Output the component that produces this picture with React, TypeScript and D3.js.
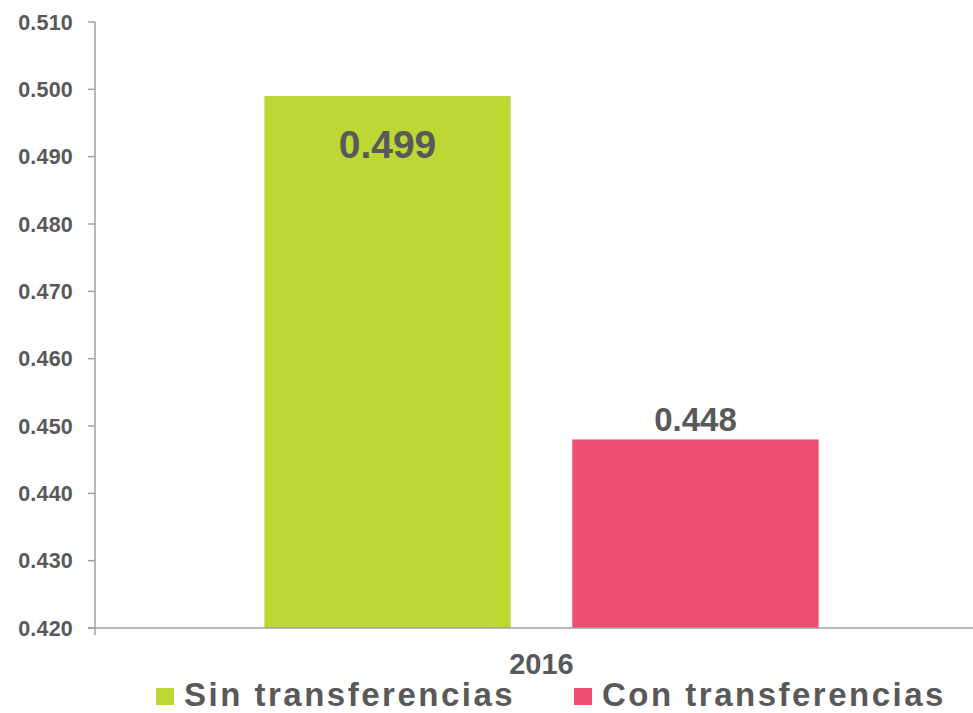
import React from "react";
import * as d3 from "d3";

const categories = ["2016"];
const seriesNames = ["Sin transferencias", "Con transferencias"];
const seriesValues = [0.499, 0.448];
const seriesColors = ["#BDD834", "#EE4F72"];
const yTicks = [0.42, 0.43, 0.44, 0.45, 0.46, 0.47, 0.48, 0.49, 0.5, 0.51];

const W = 973;
const H = 713;

export default function App() {
  const left = 95;
  const y = d3.scaleLinear().domain([0.42, 0.51]).range([628, 22]);
  const x0 = d3.scaleBand().domain(categories).range([left, 988]);
  const x1 = d3
    .scaleBand()
    .domain(seriesNames)
    .range([0, x0.bandwidth()])
    .paddingInner(0.2)
    .paddingOuter(0.55);
  const font = "'Liberation Sans', Arial, sans-serif";
  const txt = "#595959";
  const fmt = d3.format(".3f");
  return (
    <svg
      width={W}
      height={H}
      style={{ position: "absolute", left: 0, top: 0, background: "#fff" }}
      fontFamily={font}
    >
      {/* y axis */}
      <line x1={left} x2={left} y1={y(0.51)} y2={y(0.42) + 7} stroke="#a0a0a0" strokeWidth={1.5} />
      {yTicks.map((t) => (
        <g key={t}>
          <line x1={left - 7} x2={left} y1={y(t)} y2={y(t)} stroke="#a0a0a0" strokeWidth={1.5} />
          <text
            x={73}
            y={y(t)}
            dy="0.36em"
            textAnchor="end"
            fontSize={21.5}
            fontWeight="bold"
            fill={txt}
            letterSpacing={0.2}
          >
            {fmt(t)}
          </text>
        </g>
      ))}
      {/* bars */}
      {categories.map((c) =>
        seriesNames.map((s, i) => {
          const bx = (x0(c) as number) + (x1(s) as number);
          const v = seriesValues[i];
          return (
            <rect
              key={s}
              x={bx}
              y={y(v)}
              width={x1.bandwidth()}
              height={y(0.42) - y(v)}
              fill={seriesColors[i]}
            />
          );
        })
      )}
      {/* x axis */}
      <line x1={left - 7} x2={W} y1={y(0.42)} y2={y(0.42)} stroke="#a0a0a0" strokeWidth={1.5} />
      {/* value labels */}
      {categories.map((c) =>
        seriesNames.map((s, i) => {
          const cx = (x0(c) as number) + (x1(s) as number) + x1.bandwidth() / 2;
          const v = seriesValues[i];
          const inside = i === 0;
          return (
            <text
              key={s}
              x={cx}
              y={inside ? y(v) + 62 : y(v) - 8}
              textAnchor="middle"
              fontSize={inside ? 39 : 33}
              fontWeight="bold"
              fill={txt}
            >
              {fmt(v)}
            </text>
          );
        })
      )}
      {/* category label */}
      {categories.map((c) => (
        <text
          key={c}
          x={(x0(c) as number) + x0.bandwidth() / 2}
          y={674}
          textAnchor="middle"
          fontSize={29}
          fontWeight="bold"
          fill={txt}
        >
          {c}
        </text>
      ))}
      {/* legend */}
      {seriesNames.map((s, i) => {
        const lx = [156, 574][i];
        return (
          <g key={s}>
            <rect x={lx} y={688} width={18} height={17} fill={seriesColors[i]} />
            <text
              x={lx + 28}
              y={706}
              fontSize={33}
              fontWeight="bold"
              fill={txt}
              letterSpacing={2.5}
            >
              {s}
            </text>
          </g>
        );
      })}
    </svg>
  );
}
